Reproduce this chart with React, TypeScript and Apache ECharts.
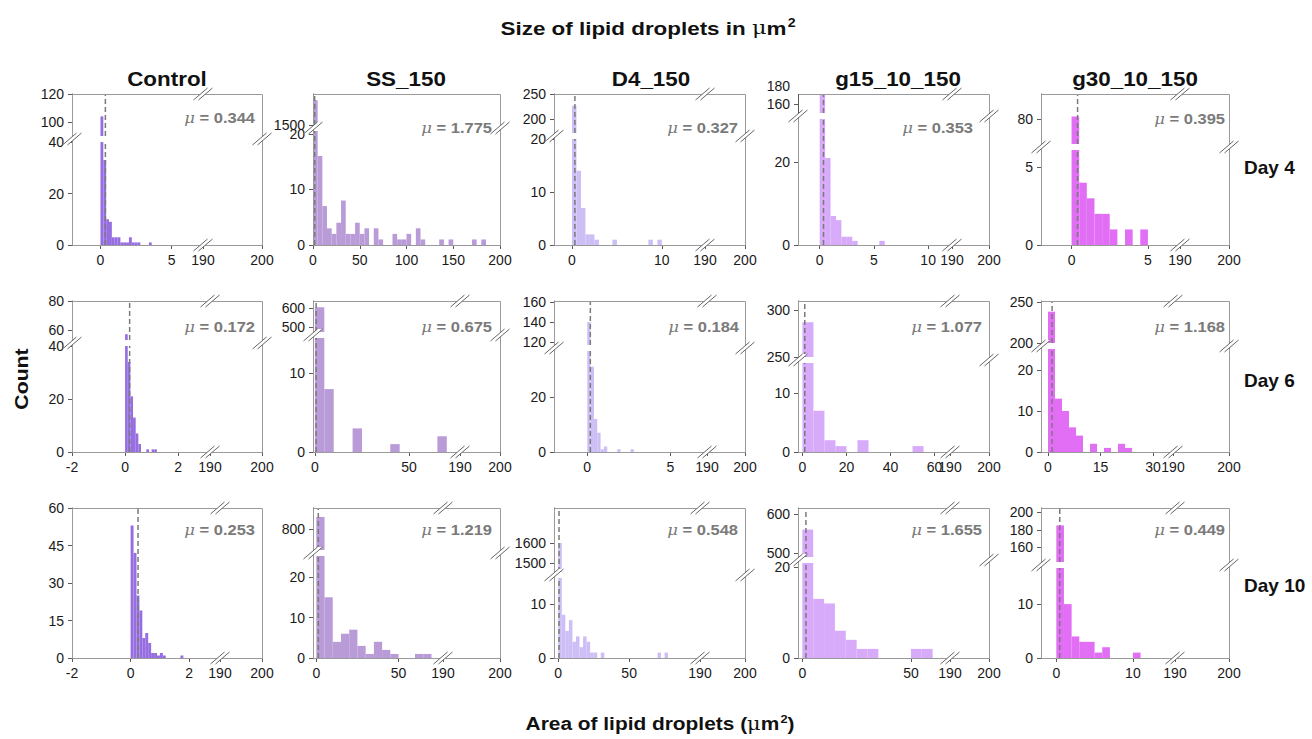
import React, { useEffect, useRef } from "react";
import * as echarts from "echarts";

const FONT = "'Liberation Sans', Arial, Helvetica, sans-serif";

// ---------------- data ----------------
const columnTitles = ["Control", "SS_150", "D4_150", "g15_10_150", "g30_10_150"];
const dayLabels = ["Day 4", "Day 6", "Day 10"];
const colors = ["#966ee1", "#b99bd7", "#cdbef5", "#d7aafa", "#e16ef5"];

const meansDay4 = [0.344, 1.775, 0.327, 0.353, 0.395];
const meansDay6 = [0.172, 0.675, 0.184, 1.077, 1.168];
const meansDay10 = [0.253, 1.219, 0.548, 1.655, 0.449];

const binWidthsDay4 = [0.2, 5, 0.5, 0.5, 0.5];
const binWidthsDay6 = [0.1, 5, 0.2, 5, 2];
const binWidthsDay10 = [0.1, 5, 2.5, 5, 1];

// counts per bin, bins start at 0
const controlDay4 = [104, 33, 10, 9, 3, 3, 3, 1, 1, 1, 3, 1, 1, 1, 0, 0, 0, 1];
const ssDay4 = [1580, 16, 7, 3, 2, 4, 8, 2, 2, 4, 2, 3, 0, 3, 1, 0, 0, 2, 1, 1, 2, 0, 3, 1, 0, 0, 0, 1, 0, 1, 0, 0, 0, 0, 1, 0, 1];
const d4Day4 = [227, 14, 7, 2, 2, 1, 0, 0, 0, 1, 0, 0, 0, 0, 0, 0, 0, 1, 0, 1];
const g15Day4 = [170, 21, 7, 6, 2, 2, 1, 0, 0, 0, 0, 1];
const g30Day4 = [81, 4, 3, 2, 2, 1, 0, 1, 0, 1];

const controlDay6 = [57, 34, 21, 13, 7, 3, 0, 0, 1, 0, 1, 1];
const ssDay6 = [604, 8, 0, 0, 3, 0, 0, 0, 1, 0, 0, 0, 0, 2];
const d4Day6 = [140, 31, 12, 7, 1, 2, 0, 0, 0, 1, 0, 0, 0, 1];
const g15Day6 = [287, 7, 2, 1, 0, 2, 0, 0, 0, 0, 1];
const g30Day6 = [238, 13, 10, 6, 4, 0, 2, 0, 1, 0, 2, 1];

const controlDay10 = [53, 42, 25, 19, 8, 10, 6, 2, 2, 1, 2, 1, 0, 0, 0, 0, 0, 1];
const ssDay10 = [823, 15, 4, 6, 7, 3, 1, 4, 2, 1, 0, 0, 1, 1];
const d4Day10 = [1600, 8, 5, 7, 3, 4, 2, 4, 3, 1, 1, 0, 1, 0, 0, 0, 0, 0, 0, 0, 0, 0, 0, 0, 0, 0, 0, 0, 1, 0, 1];
const g15Day10 = [560, 13, 12, 6, 4, 2, 2, 0, 0, 0, 2, 2];
const g30Day10 = [185, 10, 4, 3, 3, 1, 2, 0, 0, 0, 1];

// axis ranges and tick labels
const xRangesDay4 = [[-2, 7.2], [0, 200], [-2, 14.8], [-2, 12.2], [-2, 7.1]];
const xTicksDay4 = [[0, 5], [0, 50, 100, 150, 200], [0, 10], [0, 5, 10], [0, 5]];
const yLowMaxDay4 = [40, 20.5, 20, 30.4, 6.1];
const yLowTicksDay4 = [[0, 20, 40], [0, 10, 20], [0, 10, 20], [0, 20], [0, 5]];
const yHighRangesDay4 = [[90, 120], [1500, 1600], [173, 250], [150, 180], [70, 90]];
const yHighTicksDay4 = [[100, 120], [1500], [200, 250], [160, 180], [80]];

const xRangesDay6 = [[-2, 3.2], [-1, 77], [-2, 7.2], [-2, 67], [-2, 35.7]];
const xTicksDay6 = [[-2, 0, 2], [0, 50], [0, 5], [0, 20, 40, 60], [0, 15, 30]];
const yLowMaxDay6 = [40, 14.5, 36.7, 15.1, 25.1];
const yLowTicksDay6 = [[0, 20, 40], [0, 10], [0, 20], [0, 10], [0, 10, 20]];
const yHighRangesDay6 = [[53, 80], [474, 637], [117, 161], [250, 309.6], [200, 251]];
const yHighTicksDay6 = [[60, 80], [500, 600], [120, 140, 160], [250, 300], [200, 250]];

const xRangesDay10 = [[-2, 3.05], [-2, 77], [-3, 100], [-2, 68], [-2, 15.5]];
const xTicksDay10 = [[-2, 0, 2], [0, 50], [0, 50], [0, 50], [0, 10]];
const yLowMaxDay10 = [60, 25.2, 14.8, 20.9, 16.7];
const yLowTicksDay10 = [[0, 15, 30, 45, 60], [0, 10, 20], [0, 10], [0, 20], [0, 10]];
const yHighRangesDay10 = [null, [760, 840], [1455, 1775], [490, 615], [143, 205]];
const yHighTicksDay10 = [[], [800], [1500, 1600], [500, 600], [160, 180, 200]];

const breakRange = [190, 200];
const breakTicks = [190, 200];

// ---------------- layout ----------------
const colLeft = [72, 313, 554, 798, 1041];
const colRight = [262, 500, 745, 989, 1229];
const rowTop = [94, 301, 508];
const rowBottom = [245, 452, 658];
const xBreakPx = [
  [203, null, 705, 952, 1180],
  [210, 460, 707, 950, 1173],
  [220, 443, 700, 950, 1175],
];
const yBreakPx = [
  [139, 128, 136, 116, 147],
  [343, 335, 348, 360, 346],
  [null, 553, 575, 560, 565],
];
// top of the upper axis segment when it reaches above the frame
const upperTopPx = [
  [null, null, null, 86, null],
  [null, null, null, null, null],
  [null, null, null, null, null],
];
const muY = [
  [118, 128, 128, 128, 119],
  [327, 327, 327, 327, 327],
  [530, 530, 530, 530, 530],
];
const muX = [
  [255, 492, 738, 973, 1225],
  [255, 492, 739, 982, 1225],
  [255, 492, 738, 982, 1225],
];
const titleX = [167, 406, 651, 898, 1135];
const dayY = [167, 380, 585];

const AXIS_COLOR = "#5a5a5a";
const FRAME_COLOR = "#9a9a9a";
const LABEL_COLOR = "#1a1a1a";
const GAP = 3;

function buildOption() {
  const allCounts = [
    [controlDay4, ssDay4, d4Day4, g15Day4, g30Day4],
    [controlDay6, ssDay6, d4Day6, g15Day6, g30Day6],
    [controlDay10, ssDay10, d4Day10, g15Day10, g30Day10],
  ];
  const allMeans = [meansDay4, meansDay6, meansDay10];
  const allWidths = [binWidthsDay4, binWidthsDay6, binWidthsDay10];
  const allXR = [xRangesDay4, xRangesDay6, xRangesDay10];
  const allXT = [xTicksDay4, xTicksDay6, xTicksDay10];
  const allYL = [yLowMaxDay4, yLowMaxDay6, yLowMaxDay10];
  const allYLT = [yLowTicksDay4, yLowTicksDay6, yLowTicksDay10];
  const allYH: any[] = [yHighRangesDay4, yHighRangesDay6, yHighRangesDay10];
  const allYHT = [yHighTicksDay4, yHighTicksDay6, yHighTicksDay10];

  const grid: any[] = [];
  const xAxis: any[] = [];
  const yAxis: any[] = [];
  const series: any[] = [];
  const graphic: any[] = [];

  const addGrid = (l: number, t: number, r: number, b: number) => {
    grid.push({ left: l, top: t, width: r - l, height: b - t, containLabel: false });
    return grid.length - 1;
  };
  const axisCfg = (
    gridIndex: number,
    min: number,
    max: number,
    ticks: number[],
    show: boolean,
    showLine = true
  ) => ({
    type: "value",
    gridIndex,
    min,
    max,
    show,
    axisLine: { show: showLine, onZero: false, lineStyle: { color: AXIS_COLOR, width: 1 } },
    axisTick: {
      show: true,
      customValues: ticks.filter((v) => showLine || v < max),
      length: 4,
      lineStyle: { color: AXIS_COLOR },
    },
    axisLabel: {
      show: true,
      customValues: ticks,
      fontSize: 14,
      color: LABEL_COLOR,
      fontFamily: FONT,
      margin: 8,
      hideOverlap: false,
      formatter: (v: number) => String(v),
    },
    splitLine: { show: false },
  });

  const breakMark = (x: number, y: number) => {
    const h = 6, w = 7, d = 2.5;
    return [
      {
        type: "polygon",
        z: 100,
        shape: { points: [[x - w - d, y + h], [x + w - d, y - h], [x + w + d, y - h], [x - w + d, y + h]] },
        style: { fill: "#ffffff" },
      },
      { type: "line", z: 101, shape: { x1: x - w - d, y1: y + h, x2: x + w - d, y2: y - h }, style: { stroke: "#666", lineWidth: 1 } },
      { type: "line", z: 101, shape: { x1: x - w + d, y1: y + h, x2: x + w + d, y2: y - h }, style: { stroke: "#666", lineWidth: 1 } },
    ];
  };

  const barSeries = (xi: number, yi: number, data: number[][], color: string, clipTop: number | null) => ({
    type: "custom",
    xAxisIndex: xi,
    yAxisIndex: yi,
    encode: { x: [0, 1], y: 2 },
    data,
    silent: true,
    renderItem: (params: any, api: any) => {
      const a = api.coord([api.value(0), 0]);
      const b = api.coord([api.value(1), api.value(2)]);
      const cs = params.coordSys;
      const top = clipTop != null ? Math.max(cs.y, clipTop) : cs.y;
      const shape = echarts.graphic.clipRectByRect(
        { x: a[0], y: b[1], width: b[0] - a[0], height: a[1] - b[1] },
        { x: cs.x, y: top, width: cs.width, height: cs.y + cs.height - top }
      );
      if (!shape) return null;
      return { type: "rect", shape, style: { fill: color } };
    },
  });
  const meanSeries = (xi: number, yi: number, mean: number, y0: number, y1: number) => ({
    type: "line",
    xAxisIndex: xi,
    yAxisIndex: yi,
    data: [[mean, y0], [mean, y1]],
    symbol: "none",
    silent: true,
    z: 5,
    lineStyle: { color: "#7a7a7a", width: 1.5, type: [5, 3] },
  });

  for (let r = 0; r < 3; r++) {
    for (let c = 0; c < 5; c++) {
      const L = colLeft[c], R = colRight[c], T = rowTop[r], B = rowBottom[r];
      const xb = xBreakPx[r][c];
      const yb = yBreakPx[r][c];
      const mainRight = xb ?? R;
      const color = colors[c];
      const w = allWidths[r][c];
      const counts = allCounts[r][c];
      const mean = allMeans[r][c];
      const data = counts
        .map((v, i) => [i * w, (i + 1) * w, v])
        .filter((d) => d[2] > 0);
      const [xmin, xmax] = allXR[r][c];
      const xt = allXT[r][c];
      const lowMax = allYL[r][c];
      const lowTop = yb != null ? yb + GAP : T;

      // lower main
      const g1 = addGrid(L, lowTop, mainRight, B);
      xAxis.push(axisCfg(g1, xmin, xmax, xt, true));
      const xi1 = xAxis.length - 1;
      yAxis.push(axisCfg(g1, 0, lowMax, allYLT[r][c], true));
      const yi1 = yAxis.length - 1;
      series.push(barSeries(xi1, yi1, data, color, null));
      series.push(meanSeries(xi1, yi1, mean, 0, lowMax));

      // lower right (190-200)
      if (xb != null) {
        const g2 = addGrid(xb, lowTop, R, B);
        xAxis.push(axisCfg(g2, breakRange[0], breakRange[1], breakTicks, true));
        yAxis.push(axisCfg(g2, 0, 1, [], false));
      }

      // upper main
      const hi = allYH[r][c];
      if (yb != null && hi) {
        const hiTop = upperTopPx[r][c];
        const gTop = hiTop ?? T;
        const gBottom = yb - GAP;
        const g3 = addGrid(L, gTop, mainRight, gBottom);
        xAxis.push(axisCfg(g3, xmin, xmax, [], false));
        const xi3 = xAxis.length - 1;
        yAxis.push(axisCfg(g3, hi[0], hi[1], allYHT[r][c], true, hiTop == null));
        const yi3 = yAxis.length - 1;
        series.push(barSeries(xi3, yi3, data, color, hiTop != null ? T : null));
        const frameTopValue =
          hiTop != null ? hi[0] + ((hi[1] - hi[0]) * (gBottom - T)) / (gBottom - gTop) : hi[1];
        series.push(meanSeries(xi3, yi3, mean, hi[0], frameTopValue));
        if (hiTop != null) {
          graphic.push({
            type: "line",
            z: 95,
            shape: { x1: L + 0.5, y1: T, x2: L + 0.5, y2: gBottom },
            style: { stroke: AXIS_COLOR, lineWidth: 1 },
          });
        }
      }

      // frame
      graphic.push({
        type: "rect",
        z: 90,
        shape: { x: L + 0.5, y: T + 0.5, width: R - L, height: B - T },
        style: { fill: "none", stroke: FRAME_COLOR, lineWidth: 1 },
      });
      if (xb != null) {
        graphic.push(...breakMark(xb, B), ...breakMark(xb, T));
      }
      if (yb != null) {
        graphic.push(...breakMark(L, yb), ...breakMark(R, yb));
      }
      // mean label
      graphic.push({
        type: "text",
        z: 110,
        x: muX[r][c],
        y: muY[r][c],
        scaleX: 1.1,
        style: {
          text: "{i|μ} = " + mean.toFixed(3),
          align: "right",
          verticalAlign: "middle",
          fontFamily: FONT,
          fontSize: 15,
          fontWeight: "bold",
          fill: "#7a7a7a",
          rich: {
            i: { fontFamily: "'DejaVu Serif', serif", fontStyle: "italic", fontWeight: "normal", fontSize: 15, fill: "#7a7a7a", color: "#7a7a7a" },
          },
        },
      });
    }
  }

  // titles
  graphic.push({
    type: "text",
    z: 110,
    x: 648,
    y: 28,
    scaleX: 1.18,
    style: {
      text: "Size of lipid droplets in {mu|μ}m{sup|2}",
      align: "center",
      verticalAlign: "middle",
      fontFamily: FONT,
      fontSize: 19,
      fontWeight: "bold",
      fill: "#111",
      rich: {
        mu: { fontFamily: "'DejaVu Serif', serif", fontSize: 19, fontWeight: "normal", fill: "#111" },
        sup: { fontFamily: FONT, fontSize: 12, fontWeight: "bold", fill: "#111", verticalAlign: "top", padding: [0, 0, 10, 1] },
      },
    },
  });
  columnTitles.forEach((t, c) => {
    graphic.push({
      type: "text",
      z: 110,
      x: titleX[c],
      y: 79,
      scaleX: 1.12,
      style: { text: t, align: "center", verticalAlign: "middle", fontFamily: FONT, fontSize: 20, fontWeight: "bold", fill: "#111" },
    });
  });
  dayLabels.forEach((t, r) => {
    graphic.push({
      type: "text",
      z: 110,
      x: 1244,
      y: dayY[r],
      style: { text: t, align: "left", verticalAlign: "middle", fontFamily: FONT, fontSize: 19, fontWeight: "bold", fill: "#111" },
    });
  });
  graphic.push({
    type: "text",
    z: 110,
    x: 22,
    y: 379,
    rotation: Math.PI / 2,
    scaleX: 1.18,
    style: { text: "Count", align: "center", verticalAlign: "middle", fontFamily: FONT, fontSize: 18, fontWeight: "bold", fill: "#111" },
  });
  graphic.push({
    type: "text",
    z: 110,
    x: 660,
    y: 724,
    scaleX: 1.16,
    style: {
      text: "Area of lipid droplets ({mu|μ}m{sup|2})",
      align: "center",
      verticalAlign: "middle",
      fontFamily: FONT,
      fontSize: 18,
      fontWeight: "bold",
      fill: "#111",
      rich: {
        mu: { fontFamily: "'DejaVu Serif', serif", fontSize: 18, fontWeight: "normal", fill: "#111" },
        sup: { fontFamily: FONT, fontSize: 11, fontWeight: "bold", fill: "#111", verticalAlign: "top", padding: [0, 0, 10, 1] },
      },
    },
  });

  return {
    animation: false,
    backgroundColor: "#ffffff",
    grid,
    xAxis,
    yAxis,
    series,
    graphic,
  };
}

export default function App() {
  const ref = useRef<HTMLDivElement>(null);
  useEffect(() => {
    if (!ref.current) return;
    const chart = echarts.init(ref.current, null, { renderer: "svg", width: 1312, height: 739 });
    chart.setOption(buildOption() as any);
    return () => chart.dispose();
  }, []);
  return (
    <div
      ref={ref}
      style={{ position: "fixed", left: 0, top: 0, width: 1312, height: 739, background: "#fff" }}
    />
  );
}
